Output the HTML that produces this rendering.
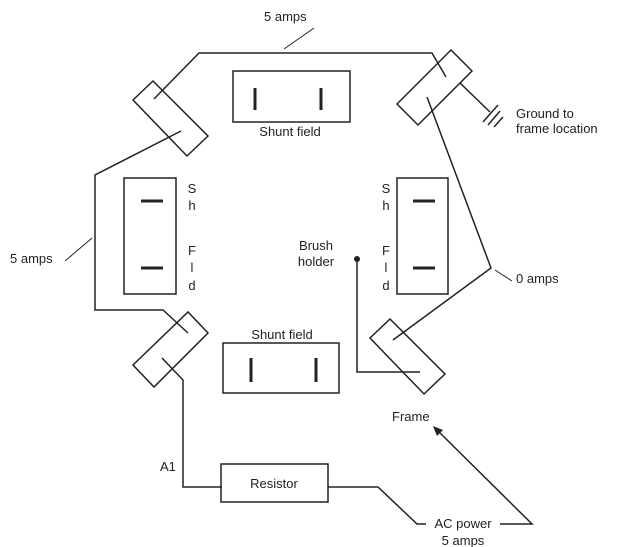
<!DOCTYPE html>
<html><head><style>
html,body{margin:0;padding:0;background:#fff;}
svg{display:block;}
text{font-family:"Liberation Sans",sans-serif;font-size:13px;fill:#222;}
</style></head><body>
<svg width="619" height="547" viewBox="0 0 619 547" xmlns="http://www.w3.org/2000/svg">
<g fill="none" stroke="#222" stroke-width="1.5">
<!-- top wire -->
<polyline points="154,99 199,53 432,53 446,77"/>
<line x1="284" y1="49" x2="314" y2="28" stroke-width="1"/>
<!-- top-left brush -->
<polygon points="133,100 153,81 208,136 187,156"/>
<polyline points="181,131 95,175 95,310 163,310 188,333"/>
<line x1="65" y1="261" x2="92" y2="238" stroke-width="1"/>
<!-- top shunt -->
<rect x="233" y="71" width="117" height="51"/>
<!-- top-right brush -->
<polygon points="397,104 451,50 472,71 418,125"/>
<polyline points="460,83 490,112"/>
<line x1="483" y1="122" x2="498" y2="105"/>
<line x1="488" y1="125" x2="500" y2="111"/>
<line x1="494" y1="127" x2="503" y2="117"/>
<polyline points="427,97 491,268 393,340"/>
<line x1="495" y1="270" x2="512" y2="281" stroke-width="1"/>
<!-- side fields -->
<rect x="124" y="178" width="52" height="116"/>
<rect x="397" y="178" width="51" height="116"/>
<!-- bottom-left brush -->
<polygon points="133,365 188,312 208,333 154,387"/>
<polyline points="162,358 183,380 183,487 222,487"/>
<!-- bottom shunt -->
<rect x="223" y="343" width="116" height="50"/>
<!-- bottom-right brush -->
<polygon points="370,338 390,319 445,374 424,394"/>
<polyline points="357,260 357,372 420,372"/>
<!-- resistor -->
<rect x="221" y="464" width="107" height="38"/>
<polyline points="328,487 378,487 417,524 426,524"/>
<polyline points="500,524 532,524 436,429"/>
</g>
<polygon points="433,426 443,430 437,436" fill="#222"/>
<circle cx="357" cy="259" r="3" fill="#222"/>
<g stroke="#222" stroke-width="3">
<line x1="255" y1="88" x2="255" y2="110"/><line x1="321" y1="88" x2="321" y2="110"/>
<line x1="251" y1="358" x2="251" y2="382"/><line x1="316" y1="358" x2="316" y2="382"/>
<line x1="141" y1="201" x2="163" y2="201"/><line x1="141" y1="268" x2="163" y2="268"/>
<line x1="413" y1="201" x2="435" y2="201"/><line x1="413" y1="268" x2="435" y2="268"/>
</g>
<text x="264" y="21">5 amps</text>
<text x="290" y="136" text-anchor="middle">Shunt field</text>
<text x="282" y="339" text-anchor="middle">Shunt field</text>
<text x="516" y="118">Ground to</text>
<text x="516" y="133">frame location</text>
<text x="10" y="263">5 amps</text>
<text x="516" y="283">0 amps</text>
<text x="316" y="250" text-anchor="middle">Brush</text>
<text x="316" y="266" text-anchor="middle">holder</text>
<g text-anchor="middle">
<text x="192" y="193">S</text><text x="192" y="210">h</text>
<text x="192" y="255">F</text><text x="192" y="272">l</text><text x="192" y="290">d</text>
<text x="386" y="193">S</text><text x="386" y="210">h</text>
<text x="386" y="255">F</text><text x="386" y="272">l</text><text x="386" y="290">d</text>
</g>
<text x="392" y="421">Frame</text>
<text x="160" y="471">A1</text>
<text x="274" y="488" text-anchor="middle">Resistor</text>
<text x="463" y="528" text-anchor="middle">AC power</text>
<text x="463" y="545" text-anchor="middle">5 amps</text>
</svg>
</body></html>
